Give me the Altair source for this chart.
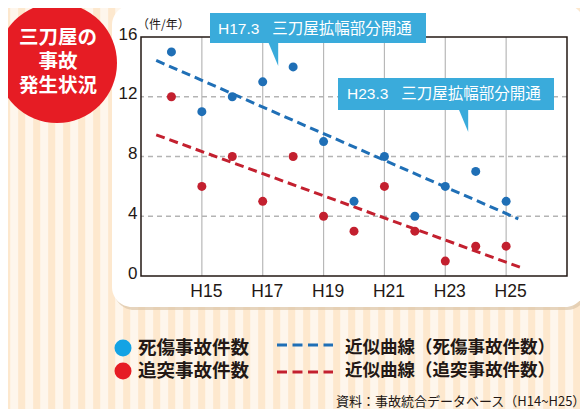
import altair as alt
import pandas as pd

# ---- data ----
years = [14, 15, 16, 17, 18, 19, 20, 21, 22, 23, 24, 25]
casualty = [15, 11, 12, 13, 14, 9, 5, 8, 4, 6, 7, 5]      # 死傷事故件数
rear_end = [12, 6, 8, 5, 8, 4, 3, 6, 3, 1, 2, 2]          # 追突事故件数
series_names = ["死傷事故件数", "追突事故件数"]
x_ticks = [15, 17, 19, 21, 23, 25]
y_ticks = [0, 4, 8, 12, 16]
y_grid = [4, 8, 12]
note1 = "H17.3\u00a0\u00a0\u00a0三刀屋拡幅部分開通"
note2 = "H23.3\u00a0\u00a0\u00a0三刀屋拡幅部分開通"
title_lines = ["三刀屋の", "事故", "発生状況"]
legend_labels = ["死傷事故件数", "追突事故件数", "近似曲線（死傷事故件数）", "近似曲線（追突事故件数）"]
source = "資料：事故統合データベース（H14~H25）"

W, H = 426, 239
BLUE = "#1f6fb6"
RED = "#c3202f"
BOX = "#3aabdb"
CJK = "Noto Sans CJK JP"
NUM = "Liberation Sans, Noto Sans CJK JP"

df = pd.DataFrame({
    "year": years * 2,
    "value": casualty + rear_end,
    "series": [series_names[0]] * len(years) + [series_names[1]] * len(years),
})
one = pd.DataFrame({"a": [0]})

xs = alt.Scale(domain=[13, 27], nice=False, zero=False)
ys = alt.Scale(domain=[0, 16], nice=False)
ax_x = alt.Axis(values=x_ticks, labelExpr="'H' + datum.value", grid=False, domain=False,
                ticks=False, labelFontSize=17.5, labelFont="Liberation Sans", labelColor="#231815",
                labelPadding=6, labelOffset=4, title=None, zindex=1)
ax_y = alt.Axis(values=y_ticks, grid=False, domain=False, ticks=False, labelFontSize=17,
                labelFont="Liberation Sans", labelColor="#231815", labelPadding=4,
                labelOffset=-3, title=None, zindex=1)

# background stripes
stripes = alt.Chart(alt.sequence(0, 42, as_="k")).transform_calculate(
    px="-141 + 6.7 + 15 * datum.k"
).mark_rule(color="#fde8ce", strokeWidth=7).encode(
    x=alt.X("px:Q", scale=None), y=alt.value(-40), y2=alt.value(380)
)

shadow = alt.Chart(one).mark_rect(cornerRadius=20, color="#dcc6aa", opacity=0.7).encode(
    x=alt.value(-27), x2=alt.value(446), y=alt.value(-30), y2=alt.value(273))
panel = alt.Chart(one).mark_rect(cornerRadius=20, color="white").encode(
    x=alt.value(-29), x2=alt.value(444), y=alt.value(-32), y2=alt.value(270))

badge = alt.Chart(one).mark_point(shape="circle", filled=True, size=14400, color="#e61c24",
                                  opacity=1).encode(x=alt.value(-84), y=alt.value(26))
badge_text = [
    alt.Chart(one).mark_text(text=t, font=CJK, fontWeight="bold", fontSize=19.5, color="white",
                             align="center", baseline="middle").encode(
        x=alt.value(-83), y=alt.value(yv))
    for t, yv in zip(title_lines, [1, 25, 49])
]

vgrid = alt.Chart(pd.DataFrame({"g": x_ticks})).mark_rule(color="#b8b8b8", strokeWidth=1.2).encode(
    x=alt.X("g:Q", scale=xs, axis=ax_x))
hgrid = alt.Chart(pd.DataFrame({"g": y_grid})).mark_rule(color="#b4b4b4", strokeWidth=1.4,
                                                          strokeDash=[5, 4]).encode(
    y=alt.Y("g:Q", scale=ys, axis=ax_y))
frame = alt.Chart(one).mark_rect(fillOpacity=0, stroke="#231815", strokeWidth=1.5).encode(
    x=alt.value(0), x2=alt.value(W), y=alt.value(0), y2=alt.value(H))

base = alt.Chart(df)
trend_blue = base.transform_filter(alt.datum.series == series_names[0]).transform_regression(
    "year", "value", extent=[13.5, 25.4]
).mark_line(color=BLUE, strokeWidth=3, strokeDash=[9, 5]).encode(
    x=alt.X("year:Q", scale=xs, axis=ax_x), y=alt.Y("value:Q", scale=ys, axis=ax_y))
trend_red = base.transform_filter(alt.datum.series == series_names[1]).transform_regression(
    "year", "value", extent=[13.5, 25.55]
).mark_line(color=RED, strokeWidth=3, strokeDash=[9, 5]).encode(
    x=alt.X("year:Q", scale=xs, axis=ax_x), y=alt.Y("value:Q", scale=ys, axis=ax_y))

points = base.mark_point(filled=True, size=81, opacity=1).encode(
    x=alt.X("year:Q", scale=xs, axis=ax_x),
    y=alt.Y("value:Q", scale=ys, axis=ax_y),
    color=alt.Color("series:N", scale=alt.Scale(domain=series_names, range=[BLUE, RED]), legend=None),
)

tri = "M-0.4,-1.05 L0.45,-1.05 L0.45,1 Z"
box1 = alt.Chart(one).mark_rect(color=BOX).encode(
    x=alt.value(69), x2=alt.value(285), y=alt.value(-24), y2=alt.value(6))
tri1 = alt.Chart(one).mark_point(shape=tri, filled=True, size=576, color=BOX, opacity=1).encode(
    x=alt.value(131.8), y=alt.value(17))
txt1 = alt.Chart(one).mark_text(text=note1, font=NUM, fontSize=15.5, color="white", align="left",
                                baseline="middle").encode(x=alt.value(77), y=alt.value(-8))
box2 = alt.Chart(one).mark_rect(color=BOX).encode(
    x=alt.value(197), x2=alt.value(413), y=alt.value(41), y2=alt.value(73))
tri2 = alt.Chart(one).mark_point(shape=tri, filled=True, size=576, color=BOX, opacity=1).encode(
    x=alt.value(321.8), y=alt.value(83))
txt2 = alt.Chart(one).mark_text(text=note2, font=NUM, fontSize=15.5, color="white", align="left",
                                baseline="middle").encode(x=alt.value(206), y=alt.value(57))

unit = alt.Chart(one).mark_text(text="（件/年）", font=CJK, fontSize=12, color="#231815",
                                align="left", baseline="middle").encode(
    x=alt.value(-4), y=alt.value(-12))

# legend
leg = [
    alt.Chart(one).mark_point(shape="circle", filled=True, size=289, color="#14a3e4", opacity=1).encode(
        x=alt.value(-18), y=alt.value(311)),
    alt.Chart(one).mark_point(shape="circle", filled=True, size=289, color="#e61c24", opacity=1).encode(
        x=alt.value(-18), y=alt.value(334)),
    alt.Chart(one).mark_rule(color=BLUE, strokeWidth=3, strokeDash=[10, 5.5]).encode(
        x=alt.value(136), x2=alt.value(192), y=alt.value(308)),
    alt.Chart(one).mark_rule(color=RED, strokeWidth=3, strokeDash=[10, 5.5]).encode(
        x=alt.value(136), x2=alt.value(192), y=alt.value(335)),
]
for t, xv, yv, fs in [(legend_labels[0], -3, 311, 18.5), (legend_labels[1], -3, 334, 18.5),
                      (legend_labels[2], 204, 311, 17.5), (legend_labels[3], 204, 334, 17.5)]:
    leg.append(alt.Chart(one).mark_text(text=t, font=CJK, fontWeight="bold", fontSize=fs,
                                        color="#231815", align="left", baseline="middle").encode(
        x=alt.value(xv), y=alt.value(yv)))
src = alt.Chart(one).mark_text(text=source, font=CJK, fontSize=13, color="#231815", align="left",
                               baseline="middle").encode(x=alt.value(195), y=alt.value(365))

chart = alt.layer(
    stripes, shadow, panel, badge, *badge_text, vgrid, hgrid, frame,
    trend_blue, trend_red, points, box1, tri1, txt1, box2, tri2, txt2, unit, *leg, src
).properties(
    width=W, height=H, autosize="none", background="#fef6ec",
    padding={"left": 133, "top": 29, "right": 13, "bottom": 133},
).configure_view(stroke=None)

chart.save("out.html", embed_options={"renderer": "svg", "actions": False})
